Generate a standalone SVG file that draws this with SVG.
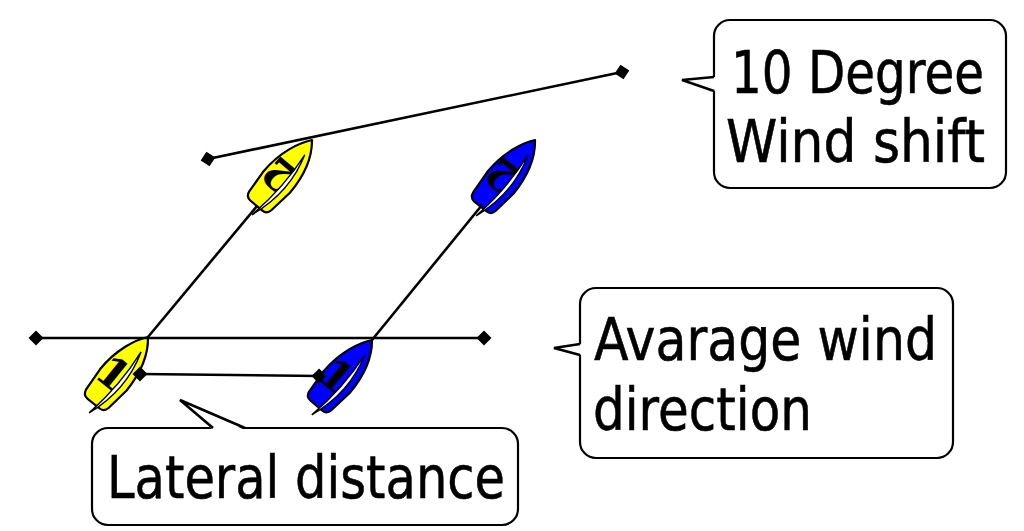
<svg xmlns="http://www.w3.org/2000/svg" width="1024" height="531" viewBox="0 0 1024 531">
<style>
.ln{stroke:#000;stroke-width:2.6;fill:none}
.dm{marker-start:url(#dia);marker-end:url(#dia)}
.hull{stroke:#000;stroke-width:2.2;stroke-linejoin:round}
.sail{fill:#fff;stroke:#000;stroke-width:1.4}
.num{font-family:"DejaVu Serif","Liberation Serif",serif;font-weight:bold;font-size:42px;fill:#000}
.box{fill:#fff;stroke:#000;stroke-width:2.2}
.lbl{font-family:"DejaVu Sans","Liberation Sans",sans-serif;font-size:59px;fill:#000;stroke:#000;stroke-width:0.6}
</style>
<defs>
<marker id="dia" viewBox="-8 -8 16 16" markerWidth="16" markerHeight="16" markerUnits="userSpaceOnUse" orient="auto" refX="0" refY="0">
<path d="M0,-7.5 L7.5,0 L0,7.5 L-7.5,0 Z" fill="#000"/>
</marker>
<path id="hullshape" d="M0,0 C12,14 17,35 17,55 L14,80 Q13,86 7,86 L-8,86 Q-14,86 -15,80 L-17,55 C-17,30 -8,10 0,0 Z"/>
<path id="sailshape" d="M4,16 Q17,55 2,96 Q9,55 4,16 Z"/>
</defs>

<rect width="1024" height="531" fill="#fff"/>

<g id="boat-yellow-1" transform="translate(148,337) rotate(39)">
<use href="#hullshape" class="hull" fill="#ffff00"/>
<text class="num" x="-4" y="65" text-anchor="middle">1</text>
<use href="#sailshape" class="sail"/>
</g>
<g id="boat-blue-1" transform="translate(372,340) rotate(40)">
<use href="#hullshape" class="hull" fill="#0000ff"/>
<text class="num" x="-4" y="65" text-anchor="middle">1</text>
<use href="#sailshape" class="sail"/>
</g>
<g id="boat-yellow-2" transform="translate(312,140) rotate(40)">
<use href="#hullshape" class="hull" fill="#ffff00"/>
<text class="num" transform="translate(-3,48) rotate(180)" text-anchor="middle" y="15">2</text>
<use href="#sailshape" class="sail"/>
</g>
<g id="boat-blue-2" transform="translate(535,140) rotate(39)">
<use href="#hullshape" class="hull" fill="#0000ff"/>
<text class="num" transform="translate(-3,48) rotate(180)" text-anchor="middle" y="15">2</text>
<use href="#sailshape" class="sail"/>
</g>

<g id="connectors">
<line class="ln dm" x1="36" y1="338" x2="484" y2="338"/>
<line class="ln dm" x1="208" y1="159" x2="622" y2="72"/>
<line class="ln" x1="148" y1="337" x2="257" y2="206"/>
<line class="ln" x1="372" y1="340" x2="482" y2="205"/>
<line class="ln dm" x1="140" y1="374" x2="319" y2="376"/>
</g>

<g id="callout-wind-shift">
<rect class="box" x="714" y="20" width="292" height="168" rx="16"/>
<path d="M716,77 L682,80 L716,91 Z" fill="#fff"/>
<path d="M714,77 L682,80 L714,91" class="ln" stroke-width="2"/>
<text class="lbl" x="731" y="93" textLength="253" lengthAdjust="spacingAndGlyphs">10 Degree</text>
<text class="lbl" x="726" y="162" textLength="259" lengthAdjust="spacingAndGlyphs">Wind shift</text>
</g>

<g id="callout-average">
<rect class="box" x="580" y="288" width="373" height="170" rx="16"/>
<path d="M582,344 L554,348 L582,355 Z" fill="#fff"/>
<path d="M580,344 L554,348 L580,355" class="ln" stroke-width="2"/>
<text class="lbl" x="594" y="360" textLength="343" lengthAdjust="spacingAndGlyphs">Avarage wind</text>
<text class="lbl" x="593" y="430" textLength="219" lengthAdjust="spacingAndGlyphs">direction</text>
</g>

<g id="callout-lateral">
<rect class="box" x="92" y="428" width="426" height="97" rx="16"/>
<path d="M213,430 L180,400 L245,430 Z" fill="#fff"/>
<path d="M213,428 L180,400 L245,428" class="ln" stroke-width="2"/>
<text class="lbl" x="107" y="498" textLength="398" lengthAdjust="spacingAndGlyphs">Lateral distance</text>
</g>
</svg>
